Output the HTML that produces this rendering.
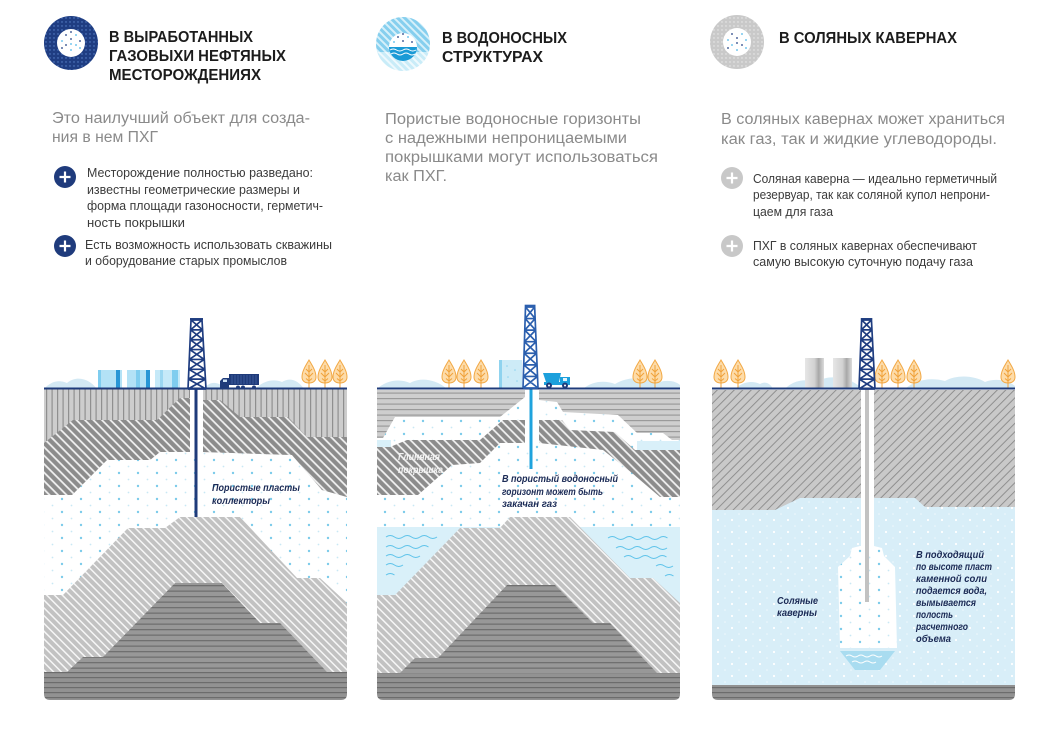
<!DOCTYPE html>
<html><head><meta charset="utf-8">
<style>
html,body{margin:0;padding:0;background:#fff;}
svg{display:block;}
text{font-family:"Liberation Sans","DejaVu Sans",sans-serif;}
.t{font-weight:bold;font-size:15.5px;fill:#1c1c1c;}
.d{font-size:15.5px;fill:#8a8a8a;}
.b{font-size:13px;fill:#3b3b3b;}
.l{font-size:10.5px;font-weight:bold;font-style:italic;fill:#1b2a55;}
</style></head><body>
<svg width="1059" height="731" viewBox="0 0 1059 731" xmlns="http://www.w3.org/2000/svg">
<defs>
 <pattern id="vs" width="5.5" height="10" patternUnits="userSpaceOnUse"><rect width="5.5" height="10" fill="#cdcdcd"/><rect x="2" width="1.2" height="10" fill="#8f8f8f"/></pattern>
 <pattern id="dk" width="6" height="6" patternUnits="userSpaceOnUse" patternTransform="rotate(-45)"><rect width="6" height="6" fill="#8c8c8c"/><rect x="2.2" width="1.7" height="6" fill="#f4f4f4"/></pattern>
 <pattern id="lg" width="5.5" height="6" patternUnits="userSpaceOnUse" patternTransform="rotate(-45)"><rect width="5.5" height="6" fill="#c2c2c2"/><rect x="2" width="1.5" height="6" fill="#f6f6f6"/></pattern>
 <pattern id="hs" width="10" height="5.5" patternUnits="userSpaceOnUse"><rect width="10" height="5.5" fill="#989898"/><rect y="2" width="10" height="1.3" fill="#707070"/></pattern>
 <pattern id="bs" width="10" height="5" patternUnits="userSpaceOnUse"><rect width="10" height="5" fill="#929292"/><rect y="2" width="10" height="1.2" fill="#6c6c6c"/></pattern>
 <pattern id="hz" width="10" height="5.5" patternUnits="userSpaceOnUse"><rect width="10" height="5.5" fill="#cecece"/><rect y="2" width="10" height="1.2" fill="#9a9a9a"/></pattern>
 <pattern id="salt" width="6" height="6" patternUnits="userSpaceOnUse" patternTransform="rotate(45)"><rect width="6" height="6" fill="#c9c9c9"/><rect x="2.5" width="0.9" height="6" fill="#8a8a8a"/></pattern>
 <pattern id="dotW" width="19" height="13" patternUnits="userSpaceOnUse"><rect width="19" height="13" fill="#fff"/><circle cx="5" cy="5" r="1.2" fill="#7ccbea"/><circle cx="14.5" cy="11.5" r="0.9" fill="#c9e8f4"/></pattern>
 <pattern id="dotB" width="14" height="12" patternUnits="userSpaceOnUse"><rect width="14" height="12" fill="#d8eef8"/><circle cx="4" cy="4" r="1.1" fill="#fff"/><circle cx="11" cy="10" r="0.8" fill="#f0f9fd"/></pattern>
 <pattern id="icd" width="4" height="4" patternUnits="userSpaceOnUse"><rect width="4" height="4" fill="#1f3d82"/><circle cx="2" cy="2" r="0.7" fill="#5c86cc"/></pattern>
 <pattern id="icg" width="4" height="4" patternUnits="userSpaceOnUse"><rect width="4" height="4" fill="#c9c9c9"/><circle cx="2" cy="2" r="0.7" fill="#ececec"/></pattern>
 <pattern id="icw" width="5" height="5" patternUnits="userSpaceOnUse" patternTransform="rotate(-45)"><rect width="5" height="5" fill="#86cfee"/><rect width="2" height="5" fill="#d6f0fa"/></pattern>
 <pattern id="icw2" width="5" height="5" patternUnits="userSpaceOnUse" patternTransform="rotate(-45)"><rect width="5" height="5" fill="#c9ecf8"/><rect width="2" height="5" fill="#eef9fd"/></pattern>
 <linearGradient id="cyl" x1="0" x2="1" y1="0" y2="0"><stop offset="0" stop-color="#e6e6e6"/><stop offset="0.5" stop-color="#d2d2d2"/><stop offset="0.72" stop-color="#a8a8a8"/><stop offset="1" stop-color="#dcdcdc"/></linearGradient>
 <clipPath id="c2"><circle cx="403" cy="44" r="27"/></clipPath>
 <g id="der" fill="none" stroke="currentColor">
  <path vector-effect="non-scaling-stroke" stroke-width="1.7" d="M3,0 L0,70 M14,0 L18,70 M3,0 H14 M2.57,10 H14.57 M2.14,20 H15.14 M1.71,30 H15.71 M1.29,40 H16.29 M0.86,50 H16.86 M0.43,60 H17.43 M0,70 H18
  M3,0 L14.57,10 M14,0 L2.57,10 M2.57,10 L15.14,20 M14.57,10 L2.14,20 M2.14,20 L15.71,30 M15.14,20 L1.71,30 M1.71,30 L16.29,40 M15.71,30 L1.29,40 M1.29,40 L16.86,50 M16.29,40 L0.86,50 M0.86,50 L17.43,60 M16.86,50 L0.43,60 M0.43,60 L18,70 M17.43,60 L0,70"/>
  <rect x="2" y="-2" width="13" height="2" fill="currentColor" stroke="none"/>
 </g>
 <g id="tree">
  <path d="M7,0 C10,5 14,11 14,17 C14,21 11,23 7,23 C3,23 0,21 0,17 C0,11 4,5 7,0 Z" fill="#fddcaa" stroke="#f2a844" stroke-width="1"/>
  <path d="M7,5 L7,29 M7,12 L10,9 M7,12 L4,9 M7,17 L11,13 M7,17 L3,13 M7,21 L10,18.5 M7,21 L4,18.5" fill="none" stroke="#f0a23a" stroke-width="1"/>
 </g>
</defs>

<rect width="1059" height="731" fill="#fff"/>

<!-- ===== HEADER LEFT ===== -->
<circle cx="71" cy="43" r="27" fill="url(#icd)"/>
<circle cx="71" cy="43" r="14" fill="#fff"/>
<g fill="#1f3d82">
 <circle cx="66" cy="35" r="0.9"/><circle cx="76" cy="35" r="0.9" fill="#4fb7e8"/>
 <circle cx="62" cy="41" r="0.9" fill="#4fb7e8"/><circle cx="71" cy="39" r="0.9"/><circle cx="80" cy="41" r="0.9"/>
 <circle cx="66" cy="45" r="0.9"/><circle cx="76" cy="45" r="0.9" fill="#4fb7e8"/>
 <circle cx="62" cy="48" r="0.9"/><circle cx="71" cy="50" r="0.9" fill="#4fb7e8"/><circle cx="80" cy="48" r="0.9" fill="#4fb7e8"/>
 <circle cx="71" cy="44" r="0.9" fill="#4fb7e8"/><circle cx="71" cy="32" r="0.9"/>
</g>
<text class="t" x="109" y="42" textLength="144" lengthAdjust="spacingAndGlyphs">В ВЫРАБОТАННЫХ</text>
<text class="t" x="109" y="61" textLength="177" lengthAdjust="spacingAndGlyphs">ГАЗОВЫХИ НЕФТЯНЫХ</text>
<text class="t" x="109" y="80" textLength="152" lengthAdjust="spacingAndGlyphs">МЕСТОРОЖДЕНИЯХ</text>
<text class="d" x="52" y="123" textLength="258" lengthAdjust="spacingAndGlyphs">Это наилучший объект для созда-</text>
<text class="d" x="52" y="142" textLength="106" lengthAdjust="spacingAndGlyphs">ния в нем ПХГ</text>
<circle cx="65" cy="177" r="11" fill="#1f3b7c"/>
<path d="M59.5,177 H70.5 M65,171.5 V182.5" stroke="#fff" stroke-width="2.2"/>
<text class="b" x="87" y="177" textLength="226" lengthAdjust="spacingAndGlyphs">Месторождение полностью разведано:</text>
<text class="b" x="87" y="194" textLength="213" lengthAdjust="spacingAndGlyphs">известны геометрические размеры и</text>
<text class="b" x="87" y="210" textLength="236" lengthAdjust="spacingAndGlyphs">форма площади газоносности, герметич-</text>
<text class="b" x="87" y="227" textLength="98" lengthAdjust="spacingAndGlyphs">ность покрышки</text>
<circle cx="65" cy="246" r="11" fill="#1f3b7c"/>
<path d="M59.5,246 H70.5 M65,240.5 V251.5" stroke="#fff" stroke-width="2.2"/>
<text class="b" x="85" y="249" textLength="247" lengthAdjust="spacingAndGlyphs">Есть возможность использовать скважины</text>
<text class="b" x="85" y="265" textLength="202" lengthAdjust="spacingAndGlyphs">и оборудование старых промыслов</text>

<!-- ===== HEADER MIDDLE ===== -->
<g clip-path="url(#c2)">
 <rect x="375" y="16" width="56" height="36" fill="url(#icw)"/>
 <rect x="375" y="52" width="56" height="20" fill="url(#icw2)"/>
</g>
<path d="M389,47 A14,14 0 0 1 417,47 Z" fill="#fff"/>
<path d="M389,47 H417 A14,14 0 0 1 389,47 Z" fill="#1a9ad6"/>
<path d="M390,50 q3.25,-2 6.5,0 t6.5,0 t6.5,0 t6.5,0 M391,54 q3,-2 6,0 t6,0 t6,0 t6,0" fill="none" stroke="#fff" stroke-width="1"/>
<g fill="#1f3d82"><circle cx="398" cy="37" r="0.9"/><circle cx="408" cy="37" r="0.9" fill="#4fb7e8"/><circle cx="394" cy="42" r="0.9" fill="#4fb7e8"/><circle cx="403" cy="41" r="0.9"/><circle cx="412" cy="42" r="0.9"/><circle cx="403" cy="34" r="0.9"/></g>
<text class="t" x="442" y="43" textLength="125" lengthAdjust="spacingAndGlyphs">В ВОДОНОСНЫХ</text>
<text class="t" x="442" y="62" textLength="101" lengthAdjust="spacingAndGlyphs">СТРУКТУРАХ</text>
<text class="d" x="385" y="124" textLength="256" lengthAdjust="spacingAndGlyphs">Пористые водоносные горизонты</text>
<text class="d" x="385" y="143" textLength="242" lengthAdjust="spacingAndGlyphs">с надежными непроницаемыми</text>
<text class="d" x="385" y="162" textLength="273" lengthAdjust="spacingAndGlyphs">покрышками могут использоваться</text>
<text class="d" x="385" y="181" textLength="62" lengthAdjust="spacingAndGlyphs">как ПХГ.</text>

<!-- ===== HEADER RIGHT ===== -->
<circle cx="737" cy="42" r="27" fill="url(#icg)"/>
<circle cx="737" cy="42" r="14" fill="#fff"/>
<g fill="#4fb7e8"><circle cx="732" cy="34" r="0.9" fill="#1f3d82"/><circle cx="742" cy="34" r="0.9"/><circle cx="728" cy="40" r="0.9"/><circle cx="737" cy="38" r="0.9" fill="#1f3d82"/><circle cx="746" cy="40" r="0.9"/><circle cx="732" cy="45" r="0.9"/><circle cx="742" cy="45" r="0.9" fill="#1f3d82"/><circle cx="737" cy="50" r="0.9"/><circle cx="728" cy="48" r="0.9" fill="#1f3d82"/><circle cx="746" cy="48" r="0.9"/><circle cx="737" cy="43" r="0.9" fill="#1f3d82"/></g>
<text class="t" x="779" y="43" textLength="178" lengthAdjust="spacingAndGlyphs">В СОЛЯНЫХ КАВЕРНАХ</text>
<text class="d" x="721" y="124" textLength="284" lengthAdjust="spacingAndGlyphs">В соляных кавернах может храниться</text>
<text class="d" x="721" y="144" textLength="276" lengthAdjust="spacingAndGlyphs">как газ, так и жидкие углеводороды.</text>
<circle cx="732" cy="178" r="11" fill="#c8c8c8"/>
<path d="M726.5,178 H737.5 M732,172.5 V183.5" stroke="#fff" stroke-width="2.2"/>
<text class="b" x="753" y="183" textLength="244" lengthAdjust="spacingAndGlyphs">Соляная каверна — идеально герметичный</text>
<text class="b" x="753" y="199" textLength="237" lengthAdjust="spacingAndGlyphs">резервуар, так как соляной купол непрони-</text>
<text class="b" x="753" y="216" textLength="80" lengthAdjust="spacingAndGlyphs">цаем для газа</text>
<circle cx="732" cy="246" r="11" fill="#c8c8c8"/>
<path d="M726.5,246 H737.5 M732,240.5 V251.5" stroke="#fff" stroke-width="2.2"/>
<text class="b" x="753" y="250" textLength="224" lengthAdjust="spacingAndGlyphs">ПХГ в соляных кавернах обеспечивают</text>
<text class="b" x="753" y="266" textLength="220" lengthAdjust="spacingAndGlyphs">самую высокую суточную подачу газа</text>

<!-- ===== PANEL 1 ===== -->
<g fill="#d3e9f4">
 <path d="M44,389 C50,382 58,379 67,383 C75,376 88,377 97,389 Z"/>
 <path d="M204,389 C208,383 214,381 221,385 L222,389 Z"/>
 <path d="M255,389 C262,382 272,378 282,382 C290,377 298,380 304,389 Z"/>
</g>
<rect x="98" y="370" width="24" height="19" fill="#b3e2f6"/>
<rect x="98" y="370" width="3" height="19" fill="#7fcdef"/>
<rect x="116" y="370" width="4" height="19" fill="#2796d6"/>
<rect x="127" y="370" width="23" height="19" fill="#b3e2f6"/>
<rect x="136" y="370" width="4" height="19" fill="#7fcdef"/>
<rect x="146" y="370" width="4" height="19" fill="#2796d6"/>
<rect x="155" y="370" width="25" height="19" fill="#c5e9f8"/>
<rect x="160" y="370" width="3" height="19" fill="#9bd7f1"/>
<rect x="172" y="370" width="6" height="19" fill="#7fcdef"/>
<rect x="229" y="374" width="30" height="11" fill="#1f3b7a"/>
<path d="M232,375 V384 M235,375 V384 M238,375 V384 M241,375 V384 M244,375 V384 M247,375 V384 M250,375 V384 M253,375 V384 M256,375 V384" stroke="#4f6fae" stroke-width="0.6"/>
<path d="M220,388 V381 L223,378 H229 V388 Z" fill="#1f3b7a"/>
<rect x="223" y="379.5" width="4" height="2.5" fill="#cfe3f5"/>
<g fill="#1f3b7a"><circle cx="224" cy="387.5" r="2"/><circle cx="238" cy="387.5" r="2"/><circle cx="243" cy="387.5" r="2"/><circle cx="254" cy="387.5" r="2"/></g>
<use href="#tree" x="302" y="360"/><use href="#tree" x="318" y="360"/><use href="#tree" x="333" y="360"/>

<rect x="44" y="389" width="303" height="284" fill="url(#dotW)"/>
<polygon points="44,389 190,389 190,452 160,452 150,460 107,460 72,495 44,495" fill="url(#vs)"/>
<polygon points="44,443 73,420 157,420 180,398 190,398 190,452 160,452 150,460 107,460 72,495 44,495" fill="url(#dk)"/>
<polygon points="203,389 347,389 347,497 322,490 292,455 203,452" fill="url(#vs)"/>
<polygon points="203,400 220,400 240,417 288,417 307,437 347,437 347,497 322,490 292,455 203,452" fill="url(#dk)"/>
<rect x="190" y="389" width="13" height="66" fill="#fff"/>
<rect x="194.5" y="389" width="3" height="129" fill="#1f3b7a"/>
<polygon points="44,595 63,595 128,528 165,528 180,517 240,517 297,578 320,578 347,603 347,672 44,672" fill="url(#lg)"/>
<polygon points="67,672 83,657 103,657 175,583 222,583 260,623 280,623 327,672" fill="url(#hs)"/>
<path d="M44,672 H347 V694 Q347,700 341,700 H50 Q44,700 44,694 Z" fill="url(#bs)"/>
<line x1="44" y1="388.5" x2="347" y2="388.5" stroke="#1f3b7a" stroke-width="2"/>
<use href="#der" transform="translate(188,320) scale(1,0.986)" style="color:#1f3d80"/>
<text class="l" x="212" y="491" textLength="88" lengthAdjust="spacingAndGlyphs">Пористые пласты</text>
<text class="l" x="212" y="504" textLength="58" lengthAdjust="spacingAndGlyphs">коллекторы</text>

<!-- ===== PANEL 2 ===== -->
<g fill="#d3e9f4">
 <path d="M377,389 C385,381 398,378 410,383 C420,377 436,379 447,389 Z"/>
 <path d="M583,389 C592,381 605,380 615,384 C628,376 645,377 657,383 C666,379 676,381 680,385 L680,389 Z"/>
</g>
<use href="#tree" x="442" y="360"/><use href="#tree" x="457" y="360"/><use href="#tree" x="474" y="360"/>
<use href="#tree" x="633" y="360"/><use href="#tree" x="648" y="360"/>
<rect x="499" y="360" width="23" height="28" fill="#cdebf7"/>
<rect x="499" y="360" width="3" height="28" fill="#8fd3ef"/>
<g fill="#8fd3ef"><circle cx="507" cy="366" r="0.8"/><circle cx="515" cy="370" r="0.8"/><circle cx="508" cy="377" r="0.8"/><circle cx="517" cy="381" r="0.8"/></g>
<polygon points="543,373 561,373 559,382 546,382" fill="#1ca0dc"/>
<rect x="560" y="377" width="10" height="7" fill="#1ca0dc"/>
<rect x="563" y="378" width="4" height="3" fill="#e4f5fc"/>
<rect x="544" y="382" width="26" height="3" fill="#1ca0dc"/>
<circle cx="549" cy="385.5" r="3" fill="#1f3b7a"/><circle cx="565" cy="385.5" r="3" fill="#1f3b7a"/>
<circle cx="549" cy="385.5" r="1" fill="#fff"/><circle cx="565" cy="385.5" r="1" fill="#fff"/>

<rect x="377" y="389" width="303" height="284" fill="url(#dotW)"/>
<rect x="377" y="527" width="303" height="146" fill="#d9f0f9"/>
<g fill="none" stroke="#5ec3ea" stroke-width="1">
 <path d="M386,537 q4.25,-3 8.5,0 t8.5,0 t8.5,0 t8.5,0 t8.5,0 t8.5,0"/>
 <path d="M386,547 q4.25,-3 8.5,0 t8.5,0 t8.5,0 t8.5,0 t8.5,0"/>
 <path d="M386,556 q4.25,-3 8.5,0 t8.5,0 t8.5,0 t8.5,0"/>
 <path d="M386,565 q4.25,-3 8.5,0 t8.5,0"/>
 <path d="M386,575 q4.25,-3 8.5,0"/>
 <path d="M608,538 q4.25,-3 8.5,0 t8.5,0 t8.5,0 t8.5,0 t8.5,0 t8.5,0 t8.5,0"/>
 <path d="M616,548 q4.25,-3 8.5,0 t8.5,0 t8.5,0 t8.5,0 t8.5,0 t8.5,0"/>
 <path d="M624,557 q4.25,-3 8.5,0 t8.5,0 t8.5,0 t8.5,0 t8.5,0"/>
 <path d="M656,566 q4.25,-3 8.5,0 t8.5,0"/>
 <path d="M665,576 q4.25,-3 8.5,0"/>
</g>
<polygon points="377,390 525,390 525,397 500,417 395,417 383,438 377,438" fill="url(#hz)"/>
<rect x="377" y="440" width="14" height="8" fill="#d9f0f9"/>
<polygon points="377,447 390,447 407,440 480,440 503,420 525,420 525,443 500,443 480,463 452,465 418,495 377,495" fill="url(#dk)"/>
<polygon points="539,390 680,390 680,440 672,440 663,433 637,433 618,415 563,412 557,402 539,400" fill="url(#hz)"/>
<rect x="637" y="441" width="43" height="9" fill="#d9f0f9"/>
<polygon points="539,420 562,420 570,430 615,432 635,450 680,450 680,497 660,497 632,473 603,450 539,443" fill="url(#dk)"/>
<rect x="525" y="389" width="14" height="56" fill="#fff"/>
<rect x="529.5" y="389" width="3" height="80" fill="#1fa3dd"/>
<polygon points="377,595 395,595 460,528 500,528 510,517 570,517 630,578 653,578 680,603 680,673 377,673" fill="url(#lg)"/>
<polygon points="400,673 415,658 438,658 507,585 555,585 593,623 610,623 657,673" fill="url(#hs)"/>
<path d="M377,673 H680 V694 Q680,700 674,700 H383 Q377,700 377,694 Z" fill="url(#bs)"/>
<line x1="377" y1="388.5" x2="680" y2="388.5" stroke="#1f3b7a" stroke-width="2"/>
<use href="#der" transform="translate(523,307) scale(0.833,1.157)" style="color:#2b5fae"/>
<text class="l" x="398" y="460" textLength="42" lengthAdjust="spacingAndGlyphs" style="fill:#f4f4f4">Глиняная</text>
<text class="l" x="398" y="473" textLength="45" lengthAdjust="spacingAndGlyphs" style="fill:#f4f4f4">покрышка</text>
<text class="l" x="502" y="482" textLength="116" lengthAdjust="spacingAndGlyphs">В пористый водоносный</text>
<text class="l" x="502" y="495" textLength="101" lengthAdjust="spacingAndGlyphs">горизонт может быть</text>
<text class="l" x="502" y="507" textLength="55" lengthAdjust="spacingAndGlyphs">закачан газ</text>

<!-- ===== PANEL 3 ===== -->
<g fill="#d3e9f4">
 <path d="M735,389 C742,382 752,380 760,384 C765,381 770,383 773,389 Z"/>
 <path d="M785,389 C792,381 805,378 815,382 C830,374 850,376 862,389 Z"/>
 <path d="M905,389 C915,380 930,377 945,381 C958,374 975,376 985,382 C995,378 1008,380 1015,386 L1015,389 Z"/>
</g>
<use href="#tree" x="714" y="360"/><use href="#tree" x="731" y="360"/>
<use href="#tree" x="875" y="360"/><use href="#tree" x="891" y="360"/><use href="#tree" x="907" y="360"/>
<use href="#tree" x="1001" y="360"/>
<rect x="805" y="358" width="19" height="31" fill="url(#cyl)"/>
<rect x="833" y="358" width="19" height="31" fill="url(#cyl)"/>

<rect x="712" y="390" width="303" height="296" fill="url(#dotB)"/>
<polygon points="712,390 1015,390 1015,507 925,507 915,498 800,498 775,510 712,510" fill="url(#salt)"/>
<rect x="861" y="390" width="13" height="162" fill="#fff"/>
<polygon points="852,548 860,546 874,546 882,548 884,556 895,567 897,648 840,648 838,567 850,556" fill="url(#dotW)"/>
<polygon points="840,651 895,651 880,670 855,670" fill="#a9dcf0"/>
<path d="M846,656 q3,-2 6,0 t6,0 t6,0 t6,0 t6,0 t6,0 M852,662 q3,-2 6,0 t6,0 t6,0 t6,0" fill="none" stroke="#fff" stroke-width="1"/>
<rect x="865" y="389" width="4" height="213" fill="#c2c2c2"/>
<path d="M712,685 H1015 V694 Q1015,700 1009,700 H718 Q712,700 712,694 Z" fill="url(#bs)"/>
<line x1="712" y1="388.5" x2="1015" y2="388.5" stroke="#1f3b7a" stroke-width="2"/>
<use href="#der" transform="translate(859,320) scale(0.889,0.986)" style="color:#1f3d80"/>
<text class="l" x="777" y="604" textLength="41" lengthAdjust="spacingAndGlyphs">Соляные</text>
<text class="l" x="777" y="616" textLength="40" lengthAdjust="spacingAndGlyphs">каверны</text>
<text class="l" x="916" y="558" textLength="68" lengthAdjust="spacingAndGlyphs">В подходящий</text>
<text class="l" x="916" y="570" textLength="76" lengthAdjust="spacingAndGlyphs">по высоте пласт</text>
<text class="l" x="916" y="582" textLength="71" lengthAdjust="spacingAndGlyphs">каменной соли</text>
<text class="l" x="916" y="594" textLength="71" lengthAdjust="spacingAndGlyphs">подается вода,</text>
<text class="l" x="916" y="606" textLength="60" lengthAdjust="spacingAndGlyphs">вымывается</text>
<text class="l" x="916" y="618" textLength="37" lengthAdjust="spacingAndGlyphs">полость</text>
<text class="l" x="916" y="630" textLength="52" lengthAdjust="spacingAndGlyphs">расчетного</text>
<text class="l" x="916" y="642" textLength="35" lengthAdjust="spacingAndGlyphs">объема</text>
</svg>
</body></html>
